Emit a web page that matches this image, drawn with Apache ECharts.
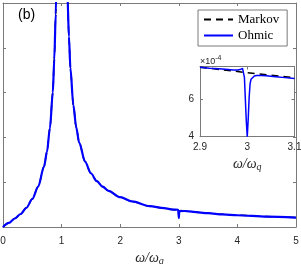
<!DOCTYPE html>
<html><head><meta charset="utf-8">
<script src="https://cdn.jsdelivr.net/npm/echarts@6/dist/echarts.min.js"></script>
<style>html,body{margin:0;padding:0;background:#fff}#c{width:301px;height:264px}</style>
</head><body><div id="c"></div>
<script>
// ---- data (values in units of 1e-4) ----
const omegaMain = [0,0.1,0.2,0.3,0.4,0.5,0.6,0.7,0.75,0.8,0.85,0.875,0.9,0.925,0.95,1.0,1.05,1.075,1.1,1.125,1.15,1.2,1.25,1.3,1.4,1.5,1.6,1.7,1.8,2.0,2.2,2.5,2.75,2.9,2.99,2.992,3.0,3.008,3.01,3.1,3.25,3.5,3.75,4.0,4.5,5.0];
const markovMain = [0,1.8,3.8,5.8,8.6,12.5,18.0,27.0,33.5,44.0,60.0,75.0,95.0,125,190,400,205,140,103,85,71,54.5,44.4,37.7,29.2,24.0,20.5,18.0,16.1,13.3,11.4,9.3,8.4,7.76,7.49,7.48,7.46,7.44,7.43,7.18,6.75,6.15,5.65,5.25,4.65,4.2];
const ohmicMain  = [0,1.8,3.8,5.8,8.6,12.5,18.0,27.0,33.5,44.0,60.0,75.0,95.0,125,190,400,205,140,103,85,71,54.5,44.4,37.7,29.2,24.0,20.5,18.0,16.1,13.3,11.4,9.3,8.4,7.76,7.70,7.80,3.95,7.10,7.20,7.14,6.75,6.15,5.65,5.25,4.65,4.2];
const omegaInsetMarkov = [2.9,2.95,3.0,3.05,3.1];
const markovInset = [7.76,7.61,7.46,7.32,7.18];
const omegaInset = [2.9,2.92,2.94,2.96,2.97,2.98,2.985,2.99,2.992,2.994,2.996,2.998,3.0,3.002,3.004,3.006,3.008,3.01,3.015,3.02,3.03,3.04,3.06,3.08,3.1];
const ohmicInset = [7.76,7.71,7.67,7.63,7.61,7.61,7.63,7.70,7.80,7.2,6.0,4.8,3.95,4.9,6.1,6.85,7.1,7.2,7.28,7.31,7.31,7.29,7.24,7.19,7.14];
const mainXTicks = [0,1,2,3,4,5];
const insetXTicks = [2.9,3,3.1];
const insetYTicks = [4,6];
const seriesNames = ['Markov','Ohmic'];
const panelLabel = '(b)';

const pairs = (xs, ys) => xs.map((x, i) => [x, ys[i]]);
const frame = '#7a7a7a';
const txt = '#262626';

const axisBase = (extra) => Object.assign({
  axisLine: {show: true, onZero: false, lineStyle: {color: frame, width: 1}},
  axisTick: {show: true, inside: true, length: 3, lineStyle: {color: frame}},
  splitLine: {show: false},
  axisLabel: {show: false}
}, extra);

const nameRich = {
  i: {fontFamily: 'Liberation Serif', fontStyle: 'italic', fontSize: 14, color: txt},
  s: {fontFamily: 'Liberation Serif', fontStyle: 'italic', fontSize: 10, color: txt, padding: [7, 0, 0, 0]}
};

const chart = echarts.init(document.getElementById('c'), null, {renderer: 'canvas'});
chart.setOption({
  animation: false,
  backgroundColor: '#fff',
  grid: [
    {left: 3, top: 3, width: 293, height: 224, show: false, containLabel: false, outerBoundsMode: 'none'},
    {left: 200, top: 66.5, width: 94.5, height: 70.2, show: true, backgroundColor: '#fff', borderWidth: 0, z: 5, containLabel: false, outerBoundsMode: 'none'}
  ],
  xAxis: [
    axisBase({gridIndex: 0, type: 'value', min: 0, max: 5, interval: 1, position: 'bottom',
      axisLabel: {show: true, color: txt, fontSize: 10, fontFamily: 'Liberation Sans', margin: 9},
      name: '{i|ω/ω}{s|q}', nameLocation: 'middle', nameGap: 22, nameTextStyle: {rich: nameRich}}),
    axisBase({gridIndex: 0, type: 'value', min: 0, max: 5, interval: 1, position: 'top'}),
    axisBase({gridIndex: 1, type: 'value', min: 2.9, max: 3.1, position: 'bottom', z: 6,
      axisTick: {show: true, inside: true, length: 3, lineStyle: {color: frame}, customValues: insetXTicks},
      axisLabel: {show: true, color: txt, fontSize: 10, fontFamily: 'Liberation Sans', margin: 6, customValues: insetXTicks,
        formatter: v => String(Math.round(v * 10) / 10)},
      name: '{i|ω/ω}{s|q}', nameLocation: 'middle', nameGap: 19, nameTextStyle: {rich: nameRich}}),
    axisBase({gridIndex: 1, type: 'value', min: 2.9, max: 3.1, position: 'top', z: 6,
      axisTick: {show: true, inside: true, length: 3, lineStyle: {color: frame}, customValues: insetXTicks}})
  ],
  yAxis: [
    axisBase({gridIndex: 0, type: 'value', min: 0, max: 100, interval: 20, position: 'left'}),
    axisBase({gridIndex: 0, type: 'value', min: 0, max: 100, interval: 20, position: 'right'}),
    axisBase({gridIndex: 1, type: 'value', min: 3.95, max: 7.8, position: 'left', z: 6,
      axisTick: {show: true, inside: true, length: 3, lineStyle: {color: frame}, customValues: insetYTicks},
      axisLabel: {show: true, color: txt, fontSize: 10, fontFamily: 'Liberation Sans', margin: 6, customValues: insetYTicks}}),
    axisBase({gridIndex: 1, type: 'value', min: 3.95, max: 7.8, position: 'right', z: 6,
      axisTick: {show: true, inside: true, length: 3, lineStyle: {color: frame}, customValues: insetYTicks}})
  ],
  legend: {
    left: 198, top: 10, orient: 'vertical', data: seriesNames,
    itemWidth: 29, itemHeight: 14, itemGap: 3,
    padding: [3, 8, 4, 5],
    borderColor: frame, borderWidth: 1, backgroundColor: '#fff',
    itemStyle: {opacity: 0},
    textStyle: {fontFamily: 'Liberation Serif', fontSize: 13, color: '#000'}
  },
  graphic: [
    {type: 'text', left: 18, top: 8, style: {text: panelLabel, font: '14px "Liberation Sans"', fill: '#000'}},
    {type: 'text', left: 200, top: 55, z: 10, style: {
      text: '{a|×10}{b|-4}', rich: {
        a: {fontFamily: 'Liberation Sans', fontSize: 9, fill: txt},
        b: {fontFamily: 'Liberation Sans', fontSize: 7, fill: txt, padding: [0, 0, 6, 0]}
      }}}
  ],
  series: [
    {name: seriesNames[0], type: 'line', xAxisIndex: 0, yAxisIndex: 0, data: pairs(omegaMain, markovMain),
      showSymbol: false, symbol: 'none', smooth: 0.3, smoothMonotone: 'x',
      lineStyle: {color: '#000', width: 1.5, type: [7, 5]}, itemStyle: {color: '#000'}, z: 2},
    {name: seriesNames[1], type: 'line', xAxisIndex: 0, yAxisIndex: 0, data: pairs(omegaMain, ohmicMain),
      showSymbol: false, symbol: 'none', smooth: 0.3, smoothMonotone: 'x',
      lineStyle: {color: '#0000ff', width: 2.2}, itemStyle: {color: '#0000ff'}, z: 3},
    {name: seriesNames[0], type: 'line', xAxisIndex: 2, yAxisIndex: 2, data: pairs(omegaInsetMarkov, markovInset),
      showSymbol: false, symbol: 'none', lineStyle: {color: '#000', width: 1.5, type: [7, 5]}, itemStyle: {color: '#000'}, z: 7},
    {name: seriesNames[1], type: 'line', xAxisIndex: 2, yAxisIndex: 2, data: pairs(omegaInset, ohmicInset),
      showSymbol: false, symbol: 'none', lineStyle: {color: '#0000ff', width: 1.5}, itemStyle: {color: '#0000ff'}, z: 8}
  ]
});
</script></body></html>
